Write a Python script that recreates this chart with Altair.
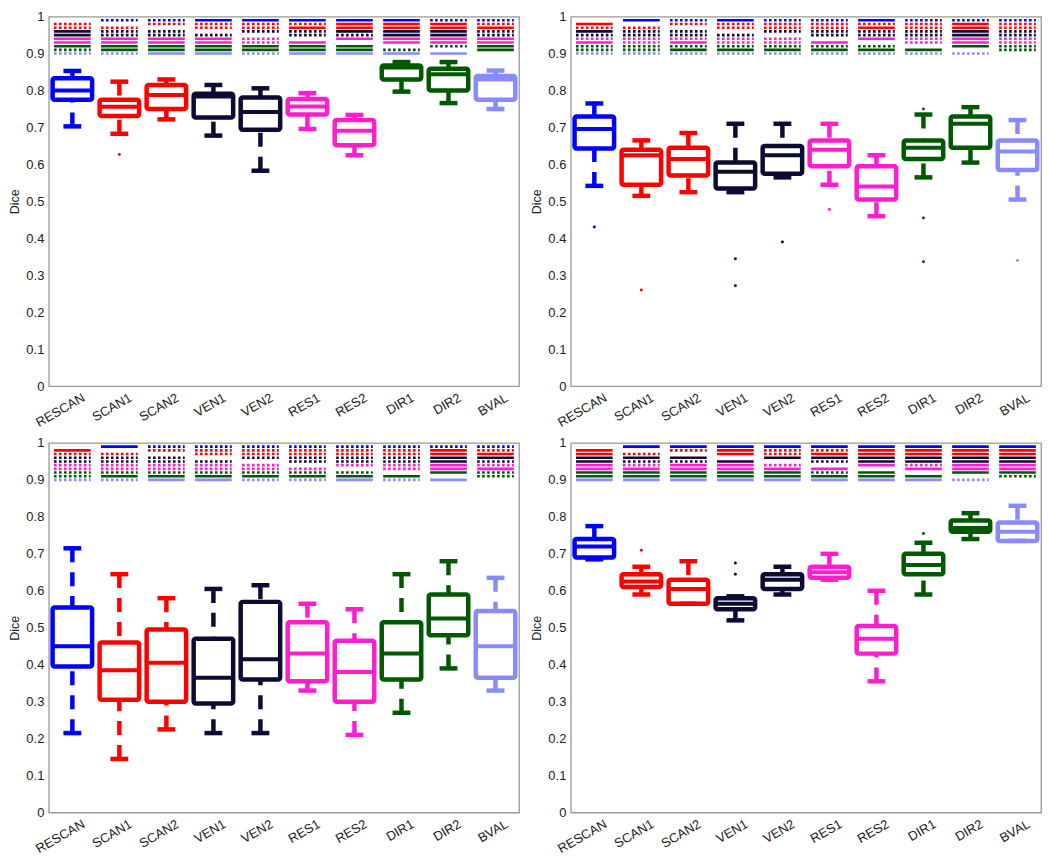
import altair as alt
import pandas as pd

methods = ["RESCAN", "SCAN1", "SCAN2", "VEN1", "VEN2", "RES1", "RES2", "DIR1", "DIR2", "BVAL"]
colors = ["#0000ff", "#ff0000", "#ff0000", "#0b0b33", "#0b0b33",
          "#ff1ecc", "#ff1ecc", "#005800", "#005800", "#8a8aff"]

# ---------- panel 1 (top-left) ----------
p1_lo = [0.703, 0.683, 0.722, 0.678, 0.583, 0.696, 0.625, 0.797, 0.766, 0.750]
p1_q1 = [0.775, 0.731, 0.750, 0.727, 0.694, 0.735, 0.652, 0.830, 0.800, 0.775]
p1_med = [0.800, 0.756, 0.788, 0.784, 0.742, 0.757, 0.691, 0.862, 0.844, 0.830]
p1_q3 = [0.833, 0.775, 0.815, 0.791, 0.781, 0.777, 0.720, 0.868, 0.859, 0.839]
p1_hi = [0.853, 0.824, 0.830, 0.815, 0.806, 0.793, 0.734, 0.877, 0.877, 0.854]
p1_out_m = ["SCAN1"]
p1_out_v = [0.627]
p1_sig = ["-DDSSSSSDD", "D-DDDSSSSD", "DD-DDSSSSS", "SDD-DSSSSS", "SDDD-DDSSD",
          "SDSDD-SSSS", "SSSSDS-SSS", "SSSSSSS-DS", "DSSSSSSD-S", "DDSDDSSSS-"]

# ---------- panel 2 (top-right) ----------
p2_lo = [0.542, 0.515, 0.525, 0.525, 0.565, 0.545, 0.460, 0.565, 0.605, 0.505]
p2_q1 = [0.643, 0.545, 0.570, 0.535, 0.575, 0.595, 0.505, 0.615, 0.645, 0.585]
p2_med = [0.696, 0.625, 0.615, 0.580, 0.625, 0.640, 0.540, 0.645, 0.710, 0.635]
p2_q3 = [0.730, 0.640, 0.645, 0.605, 0.650, 0.665, 0.595, 0.665, 0.730, 0.665]
p2_hi = [0.765, 0.665, 0.685, 0.710, 0.710, 0.710, 0.625, 0.735, 0.755, 0.720]
p2_out_m = ["RESCAN", "SCAN1", "VEN1", "VEN1", "VEN2", "RES1", "DIR1", "DIR1", "DIR1", "BVAL"]
p2_out_v = [0.431, 0.260, 0.345, 0.272, 0.390, 0.478, 0.750, 0.455, 0.337, 0.340]
p2_sig = ["-SDSDDSDDD", "S-DDDDDDDD", "DD-DDDSDSD", "SDD-DDDDSD", "DDDD-DDDSD",
          "DDDDD-SDSD", "SDSDDS-DSD", "DDDDDDD-SD", "DSSSSSSS-D", "DDDDDDDDD-"]

# ---------- panel 3 (bottom-left) ----------
p3_lo = [0.215, 0.145, 0.225, 0.215, 0.215, 0.330, 0.210, 0.270, 0.390, 0.330]
p3_q1 = [0.395, 0.305, 0.300, 0.295, 0.360, 0.355, 0.300, 0.360, 0.480, 0.365]
p3_med = [0.450, 0.385, 0.405, 0.365, 0.415, 0.430, 0.380, 0.430, 0.525, 0.450]
p3_q3 = [0.555, 0.460, 0.495, 0.470, 0.570, 0.515, 0.465, 0.515, 0.590, 0.545]
p3_hi = [0.715, 0.645, 0.580, 0.605, 0.615, 0.565, 0.550, 0.645, 0.680, 0.635]
p3_out_m = []
p3_out_v = []
p3_sig = ["-SDDDDDDDD", "S-DDDDDDSD", "DD-DDDDDSS", "DDD-DDDDSS", "DDDD-DDDSD",
          "DDDDD-DDSD", "DDDDDD-DSS", "DDDDDDD-SD", "DSSSSSSS-S", "DDSSDDSDD-"]

# ---------- panel 4 (bottom-right) ----------
p4_lo = [0.685, 0.590, 0.565, 0.520, 0.590, 0.630, 0.355, 0.590, 0.740, 0.735]
p4_q1 = [0.690, 0.610, 0.565, 0.550, 0.605, 0.635, 0.430, 0.645, 0.760, 0.735]
p4_med = [0.720, 0.625, 0.605, 0.565, 0.630, 0.650, 0.470, 0.670, 0.770, 0.760]
p4_q3 = [0.740, 0.645, 0.630, 0.580, 0.645, 0.665, 0.505, 0.700, 0.790, 0.785]
p4_hi = [0.775, 0.665, 0.680, 0.585, 0.665, 0.700, 0.600, 0.730, 0.810, 0.830]
p4_out_m = ["SCAN1", "VEN1", "VEN1", "DIR1"]
p4_out_v = [0.710, 0.675, 0.645, 0.755]
p4_sig = ["-SSSSSSSSS", "S-DSDDSSSS", "SD-SDSSSSS", "SSS-SSSSSS", "SDDS-DSSSS",
          "SDSSD-SDSS", "SSSSSS-SSS", "SSSSSDS-SS", "SSSSSSSS-D", "SSSSSSSSD-"]

FONT = "Liberation Sans"
label_expr = "[" + ",".join("'%s'" % m for m in methods) + "][datum.value]"
xscale = alt.Scale(domain=[-0.5, 9.5], nice=False, zero=False)
yscale = alt.Scale(domain=[0, 1], nice=False)
xaxis = alt.Axis(values=list(range(10)), labelExpr=label_expr, labelAngle=-30,
                 labelAlign="right", labelBaseline="top", ticks=False, domain=False,
                 grid=False, labelPadding=5, labelFontSize=13, labelOffset=8)
yaxis = alt.Axis(values=[round(v * 0.1, 1) for v in range(11)], format=".1~f",
                 ticks=False, domain=False, grid=False, labelPadding=5,
                 title="Dice", titlePadding=4, labelFontSize=13)
cscale = alt.Scale(domain=methods, range=colors)


def X(f):
    return alt.X(f + ":Q", scale=xscale, axis=xaxis, title=None)


def Y(f):
    return alt.Y(f + ":Q", scale=yscale, axis=yaxis, title="Dice")


def C():
    return alt.Color("m:N", scale=cscale, legend=None)


def panel(lo, q1, med, q3, hi, out_m, out_v, sig):
    idx = list(range(len(methods)))
    box = pd.DataFrame({"m": methods, "i": idx, "lo": lo, "q1": q1,
                        "med": med, "q3": q3, "hi": hi})
    box["xl"] = box["i"] - 0.42
    box["xr"] = box["i"] + 0.42
    box["cl"] = box["i"] - 0.19
    box["cr"] = box["i"] + 0.19

    rows = []
    for i, s in enumerate(sig):
        for j, ch in enumerate(s):
            if ch in "SD":
                rows.append({"m": methods[j], "i": i, "y": 0.99 - 0.01 * j,
                             "style": ch, "xl": i - 0.39, "xr": i + 0.39})
    sg = pd.DataFrame(rows)

    out = pd.DataFrame({"m": out_m, "v": out_v})
    out["i"] = [methods.index(m) for m in out_m]

    base = alt.Chart(box)
    sig_solid = alt.Chart(sg).transform_filter("datum.style == 'S'").mark_rule(
        strokeWidth=2.6).encode(x=X("xl"), x2="xr", y=Y("y"), color=C())
    sig_dot = alt.Chart(sg).transform_filter("datum.style == 'D'").mark_rule(
        strokeWidth=2.6, strokeDash=[2.6, 2.4]).encode(x=X("xl"), x2="xr", y=Y("y"), color=C())
    wh_hi = base.mark_rule(strokeWidth=4.5, strokeDash=[14, 10]).encode(
        x=X("i"), y=Y("hi"), y2="q3", color=C())
    wh_lo = base.mark_rule(strokeWidth=4.5, strokeDash=[14, 10]).encode(
        x=X("i"), y=Y("lo"), y2="q1", color=C())
    cap_hi = base.mark_rule(strokeWidth=4.5).encode(x=X("cl"), x2="cr", y=Y("hi"), color=C())
    cap_lo = base.mark_rule(strokeWidth=4.5).encode(x=X("cl"), x2="cr", y=Y("lo"), color=C())
    rect = base.mark_rect(filled=False, strokeWidth=4.5, cornerRadius=2,
                          strokeJoin="round").encode(
        x=X("xl"), x2="xr", y=Y("q1"), y2="q3", color=C())
    medl = base.mark_rule(strokeWidth=4).encode(x=X("xl"), x2="xr", y=Y("med"), color=C())
    layers = [sig_solid, sig_dot, wh_hi, wh_lo, cap_hi, cap_lo, rect, medl]
    if len(out) > 0:
        pts = alt.Chart(out).mark_circle(size=9, opacity=1).encode(
            x=X("i"), y=Y("v"), color=C())
        layers.append(pts)
    return alt.layer(*layers).properties(width=472, height=371)


c1 = panel(p1_lo, p1_q1, p1_med, p1_q3, p1_hi, p1_out_m, p1_out_v, p1_sig)
c2 = panel(p2_lo, p2_q1, p2_med, p2_q3, p2_hi, p2_out_m, p2_out_v, p2_sig)
c3 = panel(p3_lo, p3_q1, p3_med, p3_q3, p3_hi, p3_out_m, p3_out_v, p3_sig)
c4 = panel(p4_lo, p4_q1, p4_med, p4_q3, p4_hi, p4_out_m, p4_out_v, p4_sig)

chart = alt.vconcat(
    alt.hconcat(c1, c2, spacing=10),
    alt.hconcat(c3, c4, spacing=10),
    spacing=6,
).properties(
    padding={"left": 0, "top": 0, "right": 0, "bottom": 0}
).configure_view(
    stroke="#999999", strokeWidth=1.3
).configure_axis(
    labelFont=FONT, titleFont=FONT, labelColor="#222222", titleColor="#222222",
    titleFontSize=12.5, titleFontWeight="normal"
)

chart.save("out.html", embed_options={"renderer": "svg", "actions": False})
